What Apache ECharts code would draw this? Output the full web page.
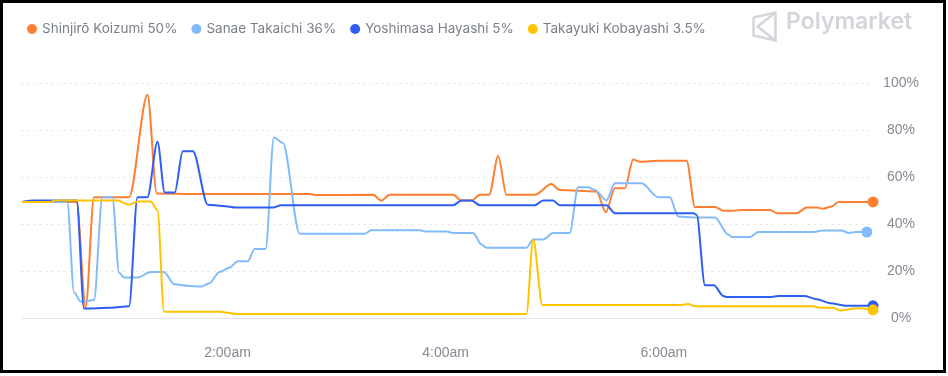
<!DOCTYPE html>
<html>
<head>
<meta charset="utf-8">
<script src="https://cdn.jsdelivr.net/npm/echarts@6/dist/echarts.min.js"></script>
<style>
  html, body { margin: 0; padding: 0; background: #fff; }
  #chart { width: 948px; height: 376px; }
  #frame { position: absolute; left: 0; top: 0; width: 946px; height: 373px; box-sizing: border-box; border: 3px solid #000; pointer-events: none; }
</style>
</head>
<body>
<div id="chart"></div>
<div id="frame"></div>
<script>
// x = minutes after midnight, y = percent
var names = ['Shinjirō Koizumi 50%', 'Sanae Takaichi 36%', 'Yoshimasa Hayashi 5%', 'Takayuki Kobayashi 3.5%'];
var colors = ['#ff7f32', '#82bbfa', '#2f5ef5', '#ffc400'];
var timeTicks = [120, 240, 360];
var yTicks = [0, 20, 40, 60, 80, 100];

var koizumi = [[7,49.4],[37,49.4],[42,4.5],[46.6,51.4],[65.9,51.4],[76,95],[81.1,53],[101,52.8],[165.2,52.8],[168.8,52.3],
  [200.1,52.4],[204.6,50],[209.2,52.4],[244.1,52.4],[248.7,50],[254.2,50],[258.8,52.4],[263.9,52.4],[268.9,68.9],[273.4,52.4],
  [289,52.4],[298.1,57],[302.7,54.5],[322.9,53.8],[328.1,45],[333,55.2],[338.5,55.2],[343.1,67.5],[346.8,66.5],[357.8,66.9],
  [372.5,66.9],[377.1,47.2],[388.1,47.2],[392.7,45.6],[398.2,45.6],[402.8,46],[418.4,46],[422,44.6],[433,44.6],[438.5,47],
  [444,47],[447.7,46.5],[452.3,47.5],[456,49.4],[475,49.4]];

var takaichi = [[7,49.4],[31.9,49.4],[35.6,11],[39.3,7],[41.1,7],[46.6,7.7],[51.2,51.4],[56.7,51.4],[60.4,19.3],[63.1,17.2],
  [70.5,17.2],[77.8,19.6],[85.1,19.6],[90.6,14.4],[98,13.7],[105.5,13.4],[110.1,14.8],[115.6,19.6],[121.1,21.4],[125.7,24.2],
  [131.2,24.2],[134.9,29.4],[141,29.4],[145.5,76.8],[150.5,74.5],[159.7,35.9],[195.5,35.9],[199.1,37.3],[225.7,37.3],[229.4,36.8],
  [240.4,36.8],[244.1,36.2],[255.1,36.2],[259.7,31.3],[262.4,29.9],[284.4,29.9],[288.1,33.4],[293.6,33.4],[299.1,36.2],[308.2,36.2],
  [312.8,55.6],[318.3,55.6],[322,54.5],[328.4,50],[333,57.3],[347.7,57.3],[356.9,51.4],[363.3,51.4],[367.9,43.2],[376.2,42.8],
  [388.1,42.8],[395.4,35.5],[397.3,34.5],[407.3,34.5],[411.9,36.6],[442.2,36.6],[447.7,37.2],[457.8,37.2],[461.5,36.2],[466.1,36.6],
  [471.6,36.6]];

var hayashi = [[7,49.4],[13.6,50],[37.1,50],[41.1,4],[55.8,4.4],[65.9,5],[70.5,51.4],[76,51.4],[81.5,75],[85.5,53.4],
  [91,53.4],[95.4,71],[101,71],[109.2,48.2],[117.5,47.7],[124.8,47],[145,47],[149.6,48],[244.1,48],[248.7,50],
  [254.2,50],[258.8,48],[289,48],[293.6,50],[299.1,50],[302.7,48],[328.4,48],[333,44.6],[376.2,44.6],[378,43.9],
  [382.6,13.9],[387.5,13.9],[392.7,9.4],[394.5,8.9],[418.4,8.9],[423,9.4],[437.6,9.4],[444,8],[451.4,6.3],[460.6,5.2],
  [475,5.2]];

var kobayashi = [[7,49.4],[22.8,49.4],[25,50],[59.5,50],[65.9,48.2],[70.5,49.6],[77.8,49.6],[81.5,46],[85.1,2.7],[115.6,2.7],
  [124.8,1.7],[284.4,1.7],[288.1,33.4],[293.2,5.5],[368.8,5.5],[373.4,6],[377.1,5],[442.2,5],[445.9,4.4],[453.2,4.4],
  [456.9,3.2],[466.1,4.1],[475,3.5]];

var seriesData = [koizumi, takaichi, hayashi, kobayashi];

var chart = echarts.init(document.getElementById('chart'));

var series = seriesData.map(function (d, i) {
    return {
        name: names[i],
        type: 'line',
        data: d,
        smooth: 0.3,
        smoothMonotone: 'x',
        clip: false,
        symbol: 'circle',
        showAllSymbol: true,
        symbolSize: function (val, p) { return p.dataIndex === d.length - 1 ? 11 : 0; },
        lineStyle: { width: 2, color: colors[i] },
        itemStyle: { color: colors[i] }
    };
});

var option = {
    animation: false,
    color: colors,
    legend: {
        left: 22,
        top: 17,
        icon: 'circle',
        itemWidth: 10,
        itemHeight: 10,
        itemGap: 14,
        textStyle: { color: '#7b7f8c', fontSize: 13.5, fontFamily: 'Inter' },
        data: names
    },
    grid: { left: 22, right: 75, top: 83, bottom: 58 },
    xAxis: {
        type: 'value',
        min: 7,
        max: 475,
        offset: 14,
        axisLine: { show: true, lineStyle: { color: '#e3e4e8' } },
        axisTick: { show: false },
        splitLine: { show: false },
        axisLabel: {
            customValues: timeTicks,
            margin: 14,
            color: '#868a94',
            fontSize: 14,
            fontFamily: 'Liberation Sans',
            formatter: function (v) { return Math.round(v / 60) + ':00am'; }
        }
    },
    yAxis: {
        type: 'value',
        position: 'right',
        min: 0,
        max: 100,
        interval: 20,
        axisLine: { show: false },
        axisTick: { show: false },
        axisLabel: {
            align: 'center',
            margin: 28,
            color: '#868a94',
            fontSize: 14,
            fontFamily: 'Liberation Sans',
            formatter: '{value}%'
        },
        splitLine: { lineStyle: { color: '#dcdde2', type: [1.5, 4.5] } }
    },
    graphic: [
        {
            type: 'group',
            left: 751,
            top: 10,
            children: [
                { type: 'polyline', shape: { points: [[1, 5], [23, 0], [23, 28], [1, 23], [1, 5]] }, style: { stroke: '#d3d5db', lineWidth: 2.5, fill: null } },
                { type: 'polyline', shape: { points: [[23, 0], [5, 14], [23, 28]] }, style: { stroke: '#d3d5db', lineWidth: 2.5, fill: null } }
            ]
        },
        {
            type: 'text',
            left: 786,
            top: 11,
            style: { text: 'Polymarket', fill: '#d3d5db', font: '600 23px Inter' }
        }
    ],
    series: series
};

chart.setOption(option);
</script>
</body>
</html>
